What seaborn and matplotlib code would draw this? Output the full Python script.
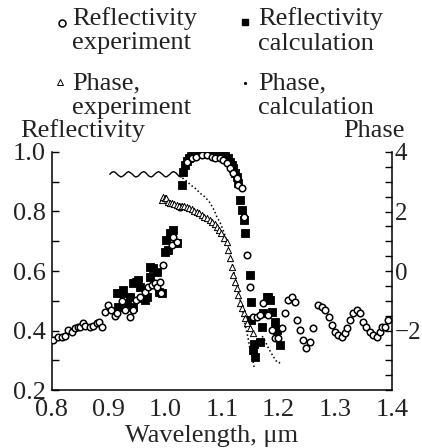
import matplotlib
matplotlib.use("Agg")
import matplotlib.pyplot as plt
from matplotlib.lines import Line2D
from matplotlib.ticker import MultipleLocator, FixedLocator, FuncFormatter
import seaborn as sns
import pandas as pd

# ---------------- data ----------------
refl_exp_wl = [0.802, 0.811, 0.817, 0.823, 0.829, 0.835, 0.841, 0.846, 0.849, 0.855,
               0.858, 0.867, 0.873, 0.879, 0.883, 0.888, 0.894, 0.899, 0.905, 0.911,
               0.915, 0.923, 0.929, 0.938, 0.943, 0.949, 0.955, 0.964, 0.970, 0.976,
               0.982, 0.985, 0.991, 0.993, 0.996, 1.011, 1.014, 1.020, 1.026, 1.038,
               1.047, 1.055, 1.064, 1.073, 1.082, 1.088, 1.096, 1.102, 1.108, 1.114,
               1.120, 1.126, 1.129, 1.135, 1.138, 1.144, 1.149, 1.155, 1.161, 1.167,
               1.173, 1.182, 1.188, 1.194, 1.199, 1.205, 1.211, 1.217, 1.223, 1.229,
               1.232, 1.238, 1.243, 1.249, 1.255, 1.261, 1.270, 1.276, 1.282, 1.288,
               1.294, 1.299, 1.305, 1.311, 1.317, 1.320, 1.326, 1.332, 1.338, 1.344,
               1.349, 1.355, 1.361, 1.367, 1.373, 1.379, 1.382, 1.388, 1.393]
refl_exp_val = [0.368, 0.377, 0.377, 0.382, 0.402, 0.396, 0.407, 0.411, 0.413, 0.426,
                0.415, 0.411, 0.415, 0.424, 0.429, 0.413, 0.463, 0.486, 0.469, 0.449,
                0.460, 0.500, 0.469, 0.444, 0.469, 0.503, 0.514, 0.530, 0.547, 0.553,
                0.559, 0.547, 0.564, 0.525, 0.620, 0.687, 0.715, 0.698, 0.816, 0.967,
                0.979, 0.984, 0.990, 0.990, 0.984, 0.979, 0.979, 0.973, 0.962, 0.945,
                0.928, 0.912, 0.889, 0.878, 0.783, 0.654, 0.545, 0.446, 0.446, 0.452,
                0.491, 0.452, 0.402, 0.374, 0.374, 0.407, 0.458, 0.503, 0.514, 0.497,
                0.435, 0.402, 0.368, 0.340, 0.362, 0.407, 0.486, 0.480, 0.469, 0.446,
                0.418, 0.396, 0.385, 0.379, 0.391, 0.407, 0.435, 0.458, 0.469, 0.458,
                0.430, 0.413, 0.396, 0.385, 0.379, 0.396, 0.413, 0.413, 0.435]

refl_calc_wl = [0.914, 0.917, 0.923, 0.926, 0.932, 0.938, 0.943, 0.943, 0.949, 0.952,
                0.955, 0.958, 0.964, 0.967, 0.973, 0.973, 0.979, 0.985, 0.988, 0.994,
                0.999, 1.002, 1.005, 1.008, 1.014, 1.020, 1.029, 1.032, 1.035, 1.038,
                1.041, 1.045, 1.049, 1.053, 1.058, 1.062, 1.067, 1.071, 1.076, 1.080,
                1.085, 1.089, 1.093, 1.098, 1.102, 1.106, 1.111, 1.114, 1.117, 1.120,
                1.123, 1.126, 1.129, 1.132, 1.135, 1.138, 1.141, 1.149, 1.151, 1.152,
                1.155, 1.156, 1.158, 1.167, 1.170, 1.173, 1.179, 1.182, 1.185, 1.188,
                1.194, 1.197, 1.202]
refl_calc_val = [0.525, 0.480, 0.525, 0.535, 0.491, 0.514, 0.480, 0.559, 0.564, 0.570,
                 0.547, 0.508, 0.503, 0.514, 0.581, 0.614, 0.609, 0.598, 0.530, 0.525,
                 0.665, 0.704, 0.671, 0.727, 0.738, 0.693, 0.889, 0.934, 0.956, 0.970,
                 0.979, 0.986, 0.990, 0.994, 0.996, 0.997, 0.997, 0.997, 0.997, 0.997,
                 0.996, 0.996, 0.995, 0.993, 0.990, 0.985, 0.979, 0.967, 0.956, 0.945,
                 0.928, 0.917, 0.895, 0.839, 0.805, 0.771, 0.727, 0.587, 0.497, 0.435,
                 0.334, 0.355, 0.312, 0.362, 0.413, 0.458, 0.514, 0.514, 0.503, 0.463,
                 0.430, 0.402, 0.351]

phase_exp_wl = [0.994, 0.996, 0.999, 1.002, 1.005, 1.008, 1.011, 1.015, 1.020, 1.024,
                1.029, 1.033, 1.038, 1.042, 1.047, 1.051, 1.055, 1.060, 1.064, 1.069,
                1.073, 1.078, 1.082, 1.087, 1.091, 1.095, 1.099, 1.104, 1.108, 1.111,
                1.114, 1.117, 1.120, 1.123, 1.126, 1.129, 1.132, 1.135, 1.138, 1.141,
                1.144, 1.149, 1.155]
phase_exp_val = [2.39, 2.50, 2.47, 2.44, 2.33, 2.30, 2.28, 2.25, 2.22, 2.20,
                 2.19, 2.17, 2.16, 2.12, 2.07, 2.03, 1.99, 1.94, 1.88, 1.83,
                 1.77, 1.71, 1.66, 1.58, 1.49, 1.38, 1.27, 1.12, 0.99, 0.71,
                 0.43, 0.15, -0.13, -0.36, -0.58, -0.81, -1.09, -1.25, -1.42, -1.59,
                 -1.76, -1.93, -2.07]

phase_calc_wl = [0.902, 0.905, 0.909, 0.912, 0.915, 0.919, 0.922, 0.925, 0.929, 0.932,
                 0.935, 0.938, 0.942, 0.945, 0.948, 0.952, 0.955, 0.958, 0.962, 0.965,
                 0.968, 0.971, 0.975, 0.978, 0.981, 0.985, 0.988, 0.991, 0.995, 0.998,
                 1.001, 1.004, 1.008, 1.011, 1.014, 1.018, 1.021, 1.024, 1.028,
                 1.037, 1.045, 1.054, 1.061, 1.070, 1.079, 1.086, 1.091, 1.097,
                 1.102, 1.107, 1.111, 1.116, 1.121, 1.127, 1.132, 1.137, 1.142, 1.146,
                 1.149, 1.153, 1.155, 1.157,
                 1.171, 1.176, 1.181, 1.187, 1.192, 1.197, 1.201, 1.204]
phase_calc_val = [3.25, 3.31, 3.34, 3.31, 3.25, 3.19, 3.16, 3.19,
                  3.25, 3.31, 3.34, 3.31, 3.25, 3.19, 3.16, 3.19,
                  3.25, 3.31, 3.34, 3.31, 3.25, 3.19, 3.16, 3.19,
                  3.25, 3.31, 3.34, 3.31, 3.25, 3.19, 3.16, 3.19,
                  3.25, 3.31, 3.34, 3.31, 3.25, 3.19, 3.16,
                  3.03, 2.89, 2.76, 2.62, 2.49, 2.29, 2.05, 1.82, 1.61,
                  1.38, 1.11, 0.84, 0.44, -0.03, -0.50, -0.98, -1.45, -1.92, -2.25,
                  -2.59, -2.86, -3.06, -3.26,
                  -2.19, -2.35, -2.56, -2.76, -2.92, -3.06, -3.09, -3.03]

x_ticks = [0.8, 0.9, 1.0, 1.1, 1.2, 1.3, 1.4]
refl_ticks = [0.2, 0.4, 0.6, 0.8, 1.0]
phase_ticks = [-2, 0, 2, 4]

legend_labels = ["Reflectivity\nexperiment", "Reflectivity\ncalculation",
                 "Phase,\nexperiment", "Phase,\ncalculation"]

# ---------------- style ----------------
sns.set_style("white")
plt.rcParams['font.family'] = ['Liberation Serif', 'DejaVu Serif']
FS = 19
plt.rcParams['font.size'] = FS
TXT = "#222222"
plt.rcParams['text.color'] = TXT
plt.rcParams['xtick.color'] = 'black'
plt.rcParams['ytick.color'] = 'black'
plt.rcParams['xtick.labelcolor'] = TXT
plt.rcParams['ytick.labelcolor'] = TXT

W, H = 422, 448
fig = plt.figure(figsize=(W / 100, H / 100), dpi=100)
ax = fig.add_axes([52 / W, 1 - 390 / H, 340 / W, 238 / H])
ax2 = ax.twinx()

# reflectivity
sns.scatterplot(x=refl_calc_wl, y=refl_calc_val, ax=ax, marker='s', color='black',
                edgecolor='black', s=26, linewidth=0.6, legend=False, zorder=3)
sns.scatterplot(x=refl_exp_wl, y=refl_exp_val, ax=ax, marker='o', color='white',
                edgecolor='black', s=22, linewidth=1.1, legend=False, zorder=4)

# phase
pc = pd.DataFrame({"wl": phase_calc_wl, "ph": phase_calc_val})
seg_wavy = pc[pc.wl <= 1.0285]
seg_fall = pc[(pc.wl >= 1.024) & (pc.wl < 1.16)]
seg_second = pc[pc.wl > 1.16]
sns.lineplot(data=seg_wavy, x="wl", y="ph", ax=ax2, color='black', lw=1.0, sort=False)
sns.lineplot(data=seg_fall, x="wl", y="ph", ax=ax2, color='black', lw=1.1,
             linestyle=(0, (1, 1.6)), sort=False)
sns.lineplot(data=seg_second, x="wl", y="ph", ax=ax2, color='black', lw=1.1,
             linestyle=(0, (1, 1.6)), sort=False)
sns.scatterplot(x=phase_exp_wl, y=phase_exp_val, ax=ax2, marker='^', color='white',
                edgecolor='black', s=20, linewidth=0.7, legend=False, zorder=3)

# axes
ax.set_xlim(0.8, 1.4)
ax.set_ylim(0.2, 1.0)
ax2.set_ylim(-4, 4)
ax.xaxis.set_major_locator(FixedLocator(x_ticks))
ax.xaxis.set_minor_locator(MultipleLocator(0.05))
ax.yaxis.set_major_locator(FixedLocator(refl_ticks))
ax.yaxis.set_minor_locator(MultipleLocator(0.1))
ax2.yaxis.set_major_locator(FixedLocator(phase_ticks))
ax2.yaxis.set_minor_locator(MultipleLocator(0.5))
ax.xaxis.set_major_formatter(FuncFormatter(lambda v, p: f"{v:.1f}"))
ax.yaxis.set_major_formatter(FuncFormatter(lambda v, p: f"{v:.1f}"))
ax2.yaxis.set_major_formatter(FuncFormatter(lambda v, p: f"{v:g}".replace('-', '\u2212')))

for a in (ax, ax2):
    a.set_xlabel("")
    a.set_ylabel("")
ax.tick_params(axis='both', which='both', direction='in', length=5, width=1.0,
               labelsize=FS, top=False, right=False)
ax.tick_params(axis='y', pad=4.5)
ax.tick_params(axis='x', pad=6.5)
ax2.tick_params(axis='y', which='both', direction='in', length=5, width=1.0,
                labelsize=18, pad=2.0)
for s in ('top', 'right'):
    ax.spines[s].set_visible(False)
for s in ('top', 'left', 'bottom'):
    ax2.spines[s].set_visible(False)
for sp in list(ax.spines.values()) + list(ax2.spines.values()):
    sp.set_linewidth(1.1)
    sp.set_color('black')

ax.set_xlabel("Wavelength, \u03bcm", fontsize=FS, labelpad=0)
ax.xaxis.label.set_va('baseline')
ax.xaxis.set_label_coords(0.468, -(442 - 390) / 238)

fig.text(20 / W, 1 - 137 / H, "Reflectivity", ha='left', va='baseline', fontsize=FS)
fig.text(405 / W, 1 - 137 / H, "Phase", ha='right', va='baseline', fontsize=FS)

# legend (manual layout); text y is the baseline of the second line
leg_items = [
    (61.5, 23, 72, 49.5, dict(marker='o', markerfacecolor='white', markeredgecolor='black', markersize=5, markeredgewidth=1.1)),
    (245, 22, 258, 49.5, dict(marker='s', markerfacecolor='black', markeredgecolor='black', markersize=5)),
    (60, 82, 72, 114, dict(marker='^', markerfacecolor='white', markeredgecolor='black', markersize=5, markeredgewidth=0.7)),
    (245, 83, 258, 114, dict(marker='o', markerfacecolor='black', markeredgecolor='black', markersize=1.3)),
]
for (mx, my, tx, ty, mk), lab in zip(leg_items, legend_labels):
    fig.add_artist(Line2D([mx / W], [1 - my / H], transform=fig.transFigure,
                          linestyle='none', **mk))
    fig.text(tx / W, 1 - ty / H, lab, ha='left', va='baseline', fontsize=FS,
             linespacing=1.15)

fig.savefig("out.png", dpi=100)
